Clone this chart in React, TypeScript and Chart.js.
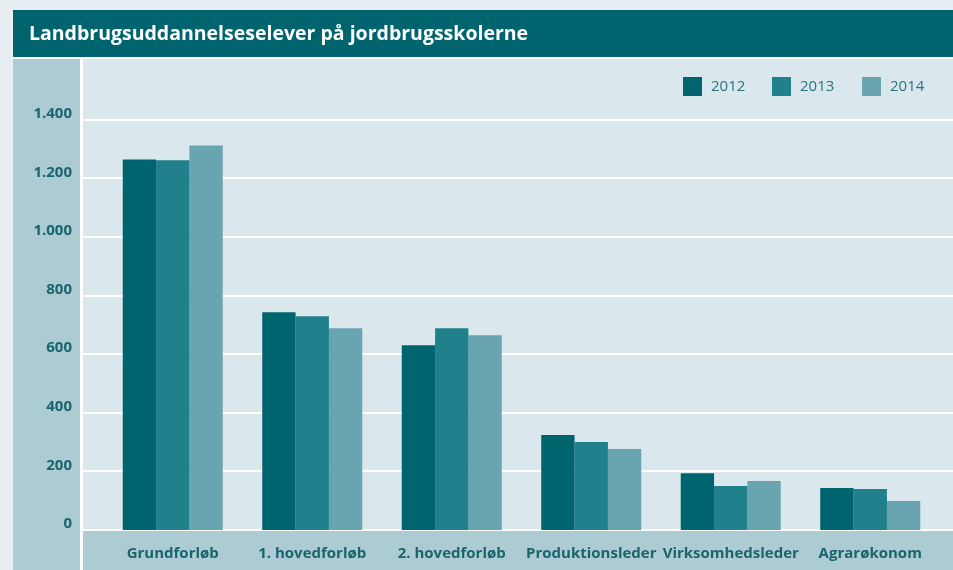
import React, { useEffect, useRef } from "react";
import { Chart, registerables } from "chart.js";

Chart.register(...registerables);

const TITLE = "Landbrugsuddannelseselever på jordbrugsskolerne";
const CATEGORIES = ["Grundforløb", "1. hovedforløb", "2. hovedforløb", "Produktionsleder", "Virksomhedsleder", "Agrarøkonom"];
const SERIES_NAMES = ["2012", "2013", "2014"];
const VALUES_2012 = [1264, 743, 630, 324, 194, 143];
const VALUES_2013 = [1261, 729, 688, 300, 150, 140];
const VALUES_2014 = [1312, 688, 664, 276, 167, 99];
const SERIES_COLORS = ["#00646e", "#20808b", "#68a5b0"];
const Y_MAX = 1600;
const Y_STEP = 200;
const Y_LAST_LABEL = 1400;

const FONT = "'Open Sans', 'Noto Sans', sans-serif";
const TEXT_COLOR = "#19656f";

const backgroundPlugin = {
  id: "bgPanels",
  beforeDraw(chart: any) {
    const ctx = chart.ctx;
    const W = chart.width;
    const H = chart.height;
    ctx.save();
    ctx.fillStyle = "#e6eef1";
    ctx.fillRect(0, 0, W, H);
    // title bar
    ctx.fillStyle = "#00646e";
    ctx.fillRect(13, 10, W - 13, 47);
    // white separators
    ctx.fillStyle = "#ffffff";
    ctx.fillRect(13, 57, W - 13, 2);
    // left panel
    ctx.fillStyle = "#adcbd2";
    ctx.fillRect(13, 59, 67, H - 59);
    ctx.fillStyle = "#ffffff";
    ctx.fillRect(80, 59, 3, H - 59);
    // plot bg
    ctx.fillStyle = "#dae7ec";
    ctx.fillRect(83, 59, W - 83, H - 59);
    // bottom band
    const y0 = chart.scales.y.getPixelForValue(0);
    ctx.fillStyle = "#adcbd2";
    ctx.fillRect(83, y0 + 1, W - 83, H - y0);
    // title text
    ctx.fillStyle = "#ffffff";
    ctx.font = `bold 19.5px ${FONT}`;
    ctx.textBaseline = "middle";
    ctx.textAlign = "left";
    ctx.fillText(TITLE, 29, 34);
    ctx.restore();
  },
  beforeDatasetsDraw(chart: any) {
    const ctx = chart.ctx;
    const ys = chart.scales.y;
    ctx.save();
    ctx.fillStyle = "#ffffff";
    ys.ticks.forEach((t: any) => {
      if (t.value <= Y_LAST_LABEL) {
        const y = ys.getPixelForValue(t.value);
        ctx.fillRect(83, Math.round(y) - 1, chart.width - 83, 2);
      }
    });
    ctx.restore();
  },
  afterDraw(chart: any) {
    const ctx = chart.ctx;
    ctx.save();
    ctx.font = `15px ${FONT}`;
    ctx.textBaseline = "middle";
    ctx.textAlign = "left";
    const xs = [683, 772, 862];
    chart.data.datasets.forEach((ds: any, i: number) => {
      ctx.fillStyle = ds.backgroundColor;
      ctx.fillRect(xs[i], 77, 19, 19);
      ctx.fillStyle = "#2a7480";
      ctx.fillText(ds.label, xs[i] + 28, 87);
    });
    ctx.restore();
  },
};

export default function App() {
  const ref = useRef<HTMLCanvasElement | null>(null);
  useEffect(() => {
    if (!ref.current) return;
    const chart = new Chart(ref.current, {
      type: "bar",
      data: {
        labels: CATEGORIES,
        datasets: [VALUES_2012, VALUES_2013, VALUES_2014].map((vals, i) => ({
          label: SERIES_NAMES[i],
          data: vals,
          backgroundColor: SERIES_COLORS[i],
          borderWidth: 0,
          barPercentage: 1.0,
          categoryPercentage: 0.717,
        })),
      },
      options: {
        animation: false,
        responsive: false,
        maintainAspectRatio: false,
        layout: { padding: { left: 13, right: 13, top: 61, bottom: 0 } },
        plugins: {
          legend: { display: false },
          title: { display: false },
          tooltip: { enabled: false },
        },
        scales: {
          x: {
            grid: { display: false, drawTicks: false },
            border: { display: false },
            ticks: {
              color: TEXT_COLOR,
              font: { family: FONT, size: 15, weight: "bold" },
              padding: 15,
              maxRotation: 0,
              autoSkip: false,
            },
            afterFit: (s: any) => {
              s.height = 39;
            },
          },
          y: {
            min: 0,
            max: Y_MAX,
            grid: { display: false, drawTicks: false },
            border: { display: false },
            ticks: {
              stepSize: Y_STEP,
              color: TEXT_COLOR,
              font: { family: FONT, size: 15, weight: "bold" },
              padding: 31,
              labelOffset: -6,
              callback: (v: any) => (Number(v) > Y_LAST_LABEL ? null : Number(v).toLocaleString("da-DK")),
            },
            afterFit: (s: any) => {
              s.width = 90;
            },
          },
        },
      },
      plugins: [backgroundPlugin],
    });
    return () => chart.destroy();
  }, []);
  return (
    <div style={{ position: "fixed", left: 0, top: 0, width: 953, height: 570, overflow: "hidden" }}>
      <canvas ref={ref} width={953} height={570} style={{ display: "block", width: 953, height: 570 }} />
    </div>
  );
}
